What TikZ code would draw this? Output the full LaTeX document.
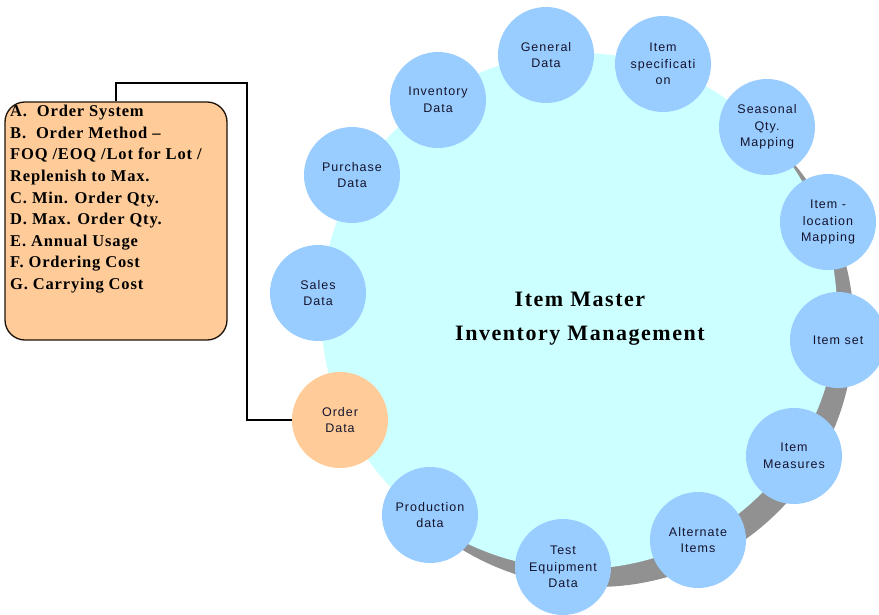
\documentclass[tikz,border=0pt]{standalone}
\usepackage{fontspec}
\setmainfont{Liberation Serif}
\newfontfamily\labelfont[LetterSpace=8]{Liberation Sans}
\newfontfamily\headfont[LetterSpace=7]{Liberation Serif}
\newfontfamily\listfont[LetterSpace=5]{Liberation Serif}
\definecolor{hubfill}{RGB}{204,255,255}
\definecolor{topicfill}{RGB}{153,204,255}
\definecolor{orderfill}{RGB}{255,204,153}
\definecolor{ringgray}{RGB}{145,145,145}
\definecolor{labelink}{RGB}{20,20,45}
\tikzset{
  topic/.style={circle, fill=topicfill, minimum size=96pt, inner sep=0pt,
    align=center, text=labelink, font=\labelfont\fontsize{12.5}{16.5}\selectfont},
  ordertopic/.style={topic, fill=orderfill},
  listbox/.style={draw=black!85!brown, line width=1.3pt, fill=orderfill,
    rounded corners=20pt, minimum width=222pt, minimum height=238pt, inner sep=0pt},
  listtext/.style={anchor=north west, inner sep=0pt, align=left,
    font=\listfont\bfseries\fontsize{16.5}{21.6}\selectfont},
  link/.style={draw=black, line width=1.3pt}
}
\begin{document}
\begin{tikzpicture}[x=1pt,y=-1pt]
\useasboundingbox (0,0) rectangle (879,615);

% central disc with its grey shadow
\node[circle, fill=ringgray, minimum size=516pt, inner sep=0pt] (shadow) at (596,329) {};
\node[circle, fill=hubfill, minimum size=516pt, inner sep=0pt] (hub) at (579,311) {};
\node[align=center, font=\headfont\bfseries\fontsize{22}{34}\selectfont] (title) at (580,319)
  {Item Master\\Inventory Management};

% topics around the disc
\node[topic] (general)   at (546,55)  {General\\Data};
\node[topic] (itemspec)  at (663,64)  {Item\\specificati\\on};
\node[topic] (seasonal)  at (767,127) {Seasonal\\Qty.\\Mapping};
\node[topic] (location)  at (828,222) {Item -\\location\\Mapping};
\node[topic] (itemset)   at (838,340) {Item set};
\node[topic] (measures)  at (794,456) {Item\\Measures};
\node[topic] (alternate) at (698,540) {Alternate\\Items};
\node[topic] (testeq)    at (563,567) {Test\\Equipment\\Data};
\node[topic] (production) at (430,515) {Production\\data};
\node[ordertopic] (order) at (340,420) {Order\\Data};
\node[topic] (sales)     at (318,293) {Sales\\Data};
\node[topic] (purchase)  at (352,175) {Purchase\\Data};
\node[topic] (inventory) at (438,100) {Inventory\\Data};

% order details box
\node[listbox] (box) at (116,221) {};
\node[listtext] (boxtext) at (10,105) {%
A.~~Order System\\
B.~~Order Method –\\
FOQ /EOQ /Lot for Lot /\\
Replenish to Max.\\
C.~Min. Order Qty.\\
D.~Max. Order Qty.\\
E.~Annual Usage\\
F.~Ordering Cost\\
G.~Carrying Cost};

% connector from the box to Order Data
\coordinate (bend) at (247,83);
\draw[link] (box.north) |- (bend) |- (order.west);
\end{tikzpicture}
\end{document}
